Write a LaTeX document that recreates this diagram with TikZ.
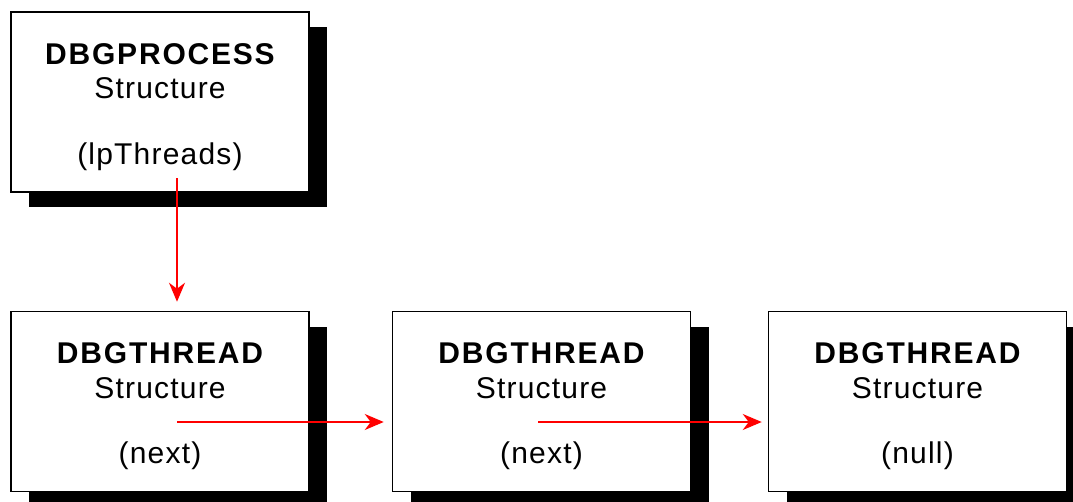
\documentclass[tikz,border=0pt]{standalone}
\usepackage{fontspec}
\setmainfont{Liberation Sans}
\usetikzlibrary{arrows.meta,shadows,calc}
\begin{document}
\begin{tikzpicture}[x=1pt,y=-1pt,
  record/.style={draw=black, line width=1.5pt, fill=white,
    minimum width=298pt, minimum height=180pt, inner sep=0pt,
    general shadow={fill=black, draw=none, shadow xshift=18pt, shadow yshift=-15pt}},
  title/.style={inner sep=0pt,
    font=\fontsize{30}{36}\selectfont\bfseries\addfontfeature{LetterSpace=6}},
  sub/.style={inner sep=0pt,
    font=\fontsize{30}{36}\selectfont\addfontfeature{LetterSpace=4}},
  link/.style={draw=red, line width=1.6pt,
    -{Stealth[length=19pt,width=16pt,inset=6pt]}}
]
\useasboundingbox (0,0) rectangle (1073,501);

% record boxes with their drop shadows
\node[record] (proc) at (160,102) {};
\node[record] (th1)  at (160,401.5) {};
\node[record] (th2)  at (541.5,401.5) {};
\node[record] (th3)  at (917.5,401.5) {};

% box captions
\node[title] (proct) at ($(proc.north)+(0,43)$) {DBGPROCESS};
\node[sub]   (procs) at ($(proc.north)+(0,77)$) {Structure};
\node[sub]   (procf) at ($(proc.north)+(0,145)$) {(lpThreads)};

\node[title] (th1t) at ($(th1.north)+(0,42)$) {DBGTHREAD};
\node[sub]   (th1s) at ($(th1.north)+(0,77)$) {Structure};
\node[sub]   (th1f) at ($(th1.north)+(0,145)$) {(next)};

\node[title] (th2t) at ($(th2.north)+(0,42)$) {DBGTHREAD};
\node[sub]   (th2s) at ($(th2.north)+(0,77)$) {Structure};
\node[sub]   (th2f) at ($(th2.north)+(0,145)$) {(next)};

\node[title] (th3t) at ($(th3.north)+(0,42)$) {DBGTHREAD};
\node[sub]   (th3s) at ($(th3.north)+(0,77)$) {Structure};
\node[sub]   (th3f) at ($(th3.north)+(0,145)$) {(null)};

% pointer origins inside the boxes
\coordinate (p0) at (177,178);
\coordinate (p1) at (177,422);
\coordinate (p2) at (538,422);

% pointer links
\draw[link, shorten >=9pt] (p0) -- (p0 |- th1.north);
\draw[link, shorten >=8pt] (p1) -- (p1 -| th2.west);
\draw[link, shorten >=6pt] (p2) -- (p2 -| th3.west);
\end{tikzpicture}
\end{document}
